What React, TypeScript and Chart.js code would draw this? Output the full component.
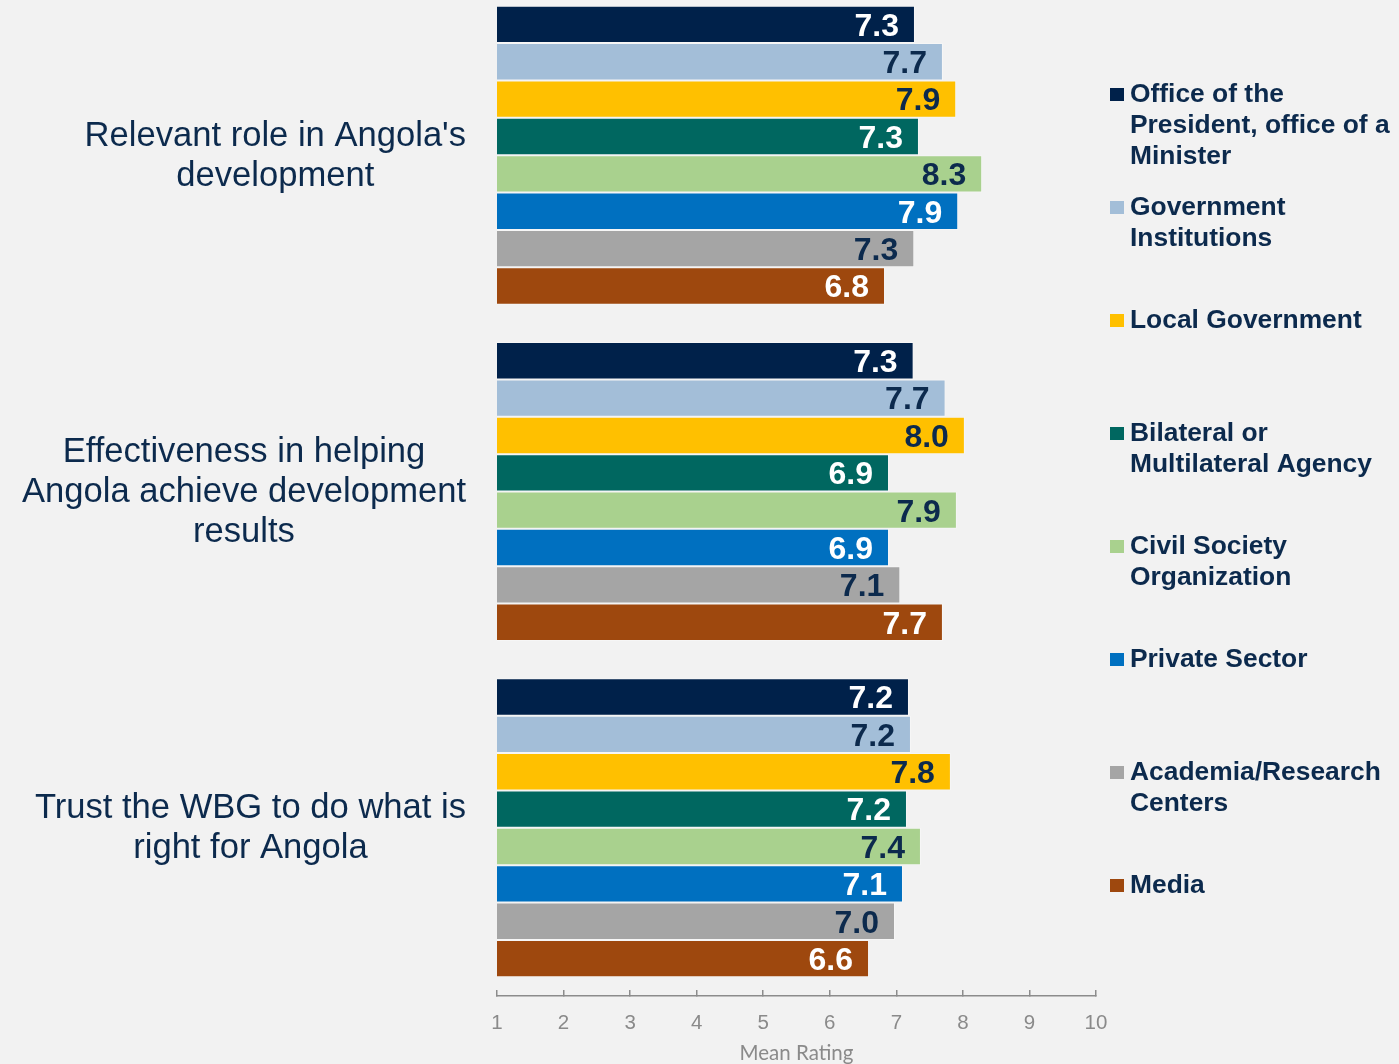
import React, { useEffect, useRef } from "react";
import { Chart, registerables } from "chart.js";

Chart.register(...registerables);

const categories: string[][] = [
  ["Relevant role in Angola's", "development"],
  ["Effectiveness in helping", "Angola achieve development", "results"],
  ["Trust the WBG to do what is", "right for Angola"],
];

const seriesNames: string[][] = [
  ["Office of the", "President, office of a", "Minister"],
  ["Government", "Institutions"],
  ["Local Government"],
  ["Bilateral or", "Multilateral Agency"],
  ["Civil Society", "Organization"],
  ["Private Sector"],
  ["Academia/Research", "Centers"],
  ["Media"],
];

const officeValues = [7.28, 7.26, 7.19];
const governmentValues = [7.7, 7.74, 7.22];
const localValues = [7.9, 8.03, 7.82];
const bilateralValues = [7.34, 6.89, 7.16];
const civilValues = [8.29, 7.91, 7.37];
const privateValues = [7.93, 6.89, 7.1];
const academiaValues = [7.27, 7.06, 6.98];
const mediaValues = [6.83, 7.7, 6.59];

const seriesValues = [
  officeValues,
  governmentValues,
  localValues,
  bilateralValues,
  civilValues,
  privateValues,
  academiaValues,
  mediaValues,
];

const seriesColors = [
  "#00214a",
  "#a3bed8",
  "#ffc000",
  "#006760",
  "#a9d18e",
  "#0070c0",
  "#a5a5a5",
  "#9e480e",
];

const labelOnDark = [true, false, false, true, false, true, false, true];

const xTicks = [1, 2, 3, 4, 5, 6, 7, 8, 9, 10];

const NAVY = "#0c2a4d";
const CANVAS_OFFSET = 13;

const dataLabelPlugin = {
  id: "dataLabels",
  afterDatasetsDraw(chart: any) {
    const ctx = chart.ctx;
    ctx.save();
    ctx.font = "bold 32px 'Liberation Sans', Arial, sans-serif";
    ctx.textAlign = "right";
    ctx.textBaseline = "middle";
    chart.data.datasets.forEach((ds: any, d: number) => {
      const meta = chart.getDatasetMeta(d);
      meta.data.forEach((bar: any, i: number) => {
        const v = ds.data[i] as number;
        ctx.fillStyle = labelOnDark[d] ? "#ffffff" : NAVY;
        ctx.fillText(v.toFixed(1), bar.x - 16, bar.y + 2.5);
      });
    });
    ctx.restore();
  },
};

const categoryLabelPlugin = {
  id: "categoryLabels",
  afterDraw(chart: any) {
    const ctx = chart.ctx;
    const yScale = chart.scales.y;
    ctx.save();
    ctx.font = "34.6px 'Liberation Sans', Arial, sans-serif";
    ctx.fillStyle = NAVY;
    ctx.textAlign = "center";
    ctx.textBaseline = "middle";
    const rightEdge = 466;
    const lineH = 40;
    categories.forEach((lines, i) => {
      const yc = yScale.getPixelForValue(i);
      const w = Math.max(...lines.map((l) => ctx.measureText(l).width));
      const xc = rightEdge - w / 2;
      const y0 = yc - ((lines.length - 1) * lineH) / 2;
      lines.forEach((l, j) => ctx.fillText(l, xc, y0 + j * lineH + 1));
    });
    ctx.restore();
  },
};

const legendPlugin = {
  id: "customLegend",
  afterDraw(chart: any) {
    const ctx = chart.ctx;
    ctx.save();
    ctx.font = "bold 26.4px 'Liberation Sans', Arial, sans-serif";
    ctx.textAlign = "left";
    ctx.textBaseline = "middle";
    const startY = 95 + CANVAS_OFFSET;
    const step = 113;
    const lineH = 30.7;
    seriesNames.forEach((lines, i) => {
      const y = startY + i * step;
      ctx.fillStyle = seriesColors[i];
      ctx.fillRect(1110, y - 7, 14, 13);
      ctx.fillStyle = NAVY;
      lines.forEach((l, j) => ctx.fillText(l, 1130, y + j * lineH));
    });
    ctx.restore();
  },
};

export default function App() {
  const canvasRef = useRef<HTMLCanvasElement | null>(null);

  useEffect(() => {
    const canvas = canvasRef.current;
    if (!canvas) return;
    const chart = new Chart(canvas, {
      type: "bar",
      data: {
        labels: categories.map((c) => c.join(" ")),
        datasets: seriesValues.map((vals, i) => ({
          label: seriesNames[i].join(" "),
          data: vals,
          backgroundColor: seriesColors[i],
          borderColor: "rgba(255,255,255,0.35)",
          borderWidth: 1,
          borderSkipped: false,
          barPercentage: 1,
          categoryPercentage: 8 / 9,
        })),
      },
      options: {
        indexAxis: "y",
        responsive: false,
        animation: false,
        layout: { padding: { top: 0, bottom: 0, left: 0, right: 303 } },
        plugins: {
          legend: { display: false },
          tooltip: { enabled: false },
        },
        scales: {
          x: {
            type: "linear",
            min: 1,
            max: 10,
            afterFit: (s: any) => {
              s.height = 68;
            },
            afterBuildTicks: (s: any) => {
              s.ticks = xTicks.map((v) => ({ value: v }));
            },
            ticks: {
              stepSize: 1,
              color: "#8a8a8a",
              padding: 21,
              font: { family: "'Liberation Sans', Arial, sans-serif", size: 20.5 },
            },
            grid: {
              display: true,
              drawOnChartArea: false,
              drawTicks: true,
              tickLength: -6,
              color: "#8c8c8c",
              lineWidth: 1.5,
            },
            border: { display: true, color: "#8c8c8c", width: 1.5 },
            title: {
              display: true,
              text: "Mean Rating",
              color: "#8a8a8a",
              font: { family: "Lato, 'Open Sans', sans-serif", size: 20.5 },
              padding: { top: 0, bottom: -2 },
            },
          },
          y: {
            type: "category",
            afterFit: (s: any) => {
              s.width = 497;
            },
            ticks: { display: false },
            grid: { display: false },
            border: { display: false },
          },
        },
      },
      plugins: [dataLabelPlugin, categoryLabelPlugin, legendPlugin],
    } as any);
    return () => chart.destroy();
  }, []);

  return (
    <div
      style={{
        position: "fixed",
        left: 0,
        top: 0,
        width: "100vw",
        height: "100vh",
        background: "#f2f2f2",
        overflow: "hidden",
      }}
    >
      <div
        style={{
          position: "absolute",
          left: 0,
          top: -CANVAS_OFFSET,
          width: 1399,
          height: 1064 + CANVAS_OFFSET,
        }}
      >
        <canvas
          ref={canvasRef}
          width={1399}
          height={1064 + CANVAS_OFFSET}
          style={{ display: "block", width: 1399, height: 1064 + CANVAS_OFFSET }}
        />
      </div>
    </div>
  );
}
